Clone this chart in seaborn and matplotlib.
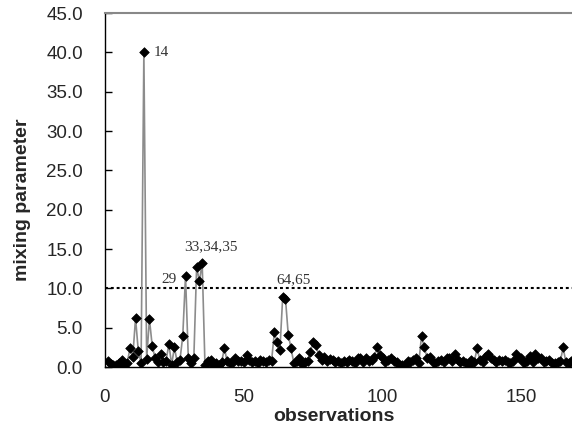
import matplotlib
matplotlib.use("Agg")
import matplotlib.pyplot as plt
import seaborn as sns
import pandas as pd

values = [
    0.7, 0.4, 0.3, 0.3, 0.5, 0.9, 0.2, 0.5, 2.4, 1.3,
    6.2, 2.0, 0.5, 40.0, 1.0, 6.1, 2.7, 1.2, 0.6, 1.7,
    0.6, 0.8, 2.9, 0.3, 2.5, 0.6, 0.9, 3.9, 11.6, 1.2,
    0.5, 1.2, 12.7, 10.9, 13.2, 0.3, 0.8, 0.9, 0.3, 0.5,
    0.3, 0.6, 2.4, 0.7, 0.5, 0.6, 1.1, 0.8, 0.7, 0.6,
    1.5, 0.9, 0.6, 0.7, 0.5, 0.9, 0.7, 0.6, 0.9, 0.8,
    4.4, 3.2, 2.2, 8.9, 8.7, 4.1, 2.4, 0.5, 0.7, 1.1,
    0.4, 0.6, 0.7, 1.9, 3.2, 2.8, 1.5, 0.9, 1.3, 0.7,
    1.0, 0.9, 0.6, 0.7, 0.5, 0.8, 0.6, 0.9, 0.7, 0.5,
    1.1, 1.1, 0.6, 1.1, 0.7, 0.9, 1.3, 2.5, 1.5, 1.1,
    0.6, 0.9, 1.1, 0.8, 0.6, 0.3, 0.3, 0.2, 0.7, 0.6,
    0.9, 1.1, 0.5, 3.9, 2.5, 1.2, 1.3, 0.6, 0.5, 0.7,
    0.9, 0.6, 1.2, 1.1, 0.8, 1.7, 0.9, 0.6, 0.7, 0.5,
    0.3, 0.9, 0.6, 2.4, 0.9, 0.6, 1.3, 1.7, 1.1, 0.9,
    0.6, 0.9, 0.7, 0.9, 0.6, 0.5, 0.8, 1.7, 1.2, 1.1,
    0.5, 0.7, 1.4, 0.6, 1.7, 1.1, 1.1, 0.6, 0.7, 0.9,
    0.5, 0.5, 0.6, 0.7, 2.5, 0.6, 0.5, 0.7,
]
observations = list(range(1, len(values) + 1))
threshold = 10.0
y_ticks = [0, 5, 10, 15, 20, 25, 30, 35, 40, 45]
x_ticks = [0, 50, 100, 150]
annotations = [("14", 14, 40.0), ("29", 29, 11.6), ("33,34,35", 33, 12.7), ("64,65", 64, 8.9)]

df = pd.DataFrame({"observations": observations, "mixing parameter": values})

sns.set_style("white")
plt.rcParams["font.family"] = ["Liberation Sans", "DejaVu Sans"]

fig = plt.figure(figsize=(5.72, 4.29), dpi=100)
ax = fig.add_axes([105 / 572, 62 / 429, 472 / 572, 354 / 429])

sns.lineplot(data=df, x="observations", y="mixing parameter", color="#8c8c8c",
             linewidth=1.2, ax=ax, zorder=2)
sns.scatterplot(data=df, x="observations", y="mixing parameter", marker="D",
                color="black", s=24, edgecolor="black", linewidth=0.5, ax=ax, zorder=3)

ax.axhline(threshold, color="black", linewidth=1.5, linestyle=(0, (1.4, 1.4)), zorder=1)

ax.set_xlim(0, 170)
ax.set_ylim(0, 45)
ax.set_yticks(y_ticks)
ax.set_yticklabels([f"{v:.1f}" for v in y_ticks])
ax.set_xticks(x_ticks)
ax.tick_params(axis="y", direction="in", length=5, width=1, color="black",
               labelsize=13.5, pad=16, left=True)
ax.tick_params(axis="x", length=0, labelsize=13.5, pad=16)

ax.set_xlabel("observations", fontsize=14, fontweight="bold")
ax.set_ylabel("mixing parameter", fontsize=14, fontweight="bold")
ax.xaxis.set_label_coords(0.484, -0.117)
ax.yaxis.set_label_coords(-0.174, 0.472)
ax.yaxis.label.set_va("center")
ax.xaxis.label.set_va("top")

for side in ["left", "bottom"]:
    ax.spines[side].set_color("black")
    ax.spines[side].set_linewidth(1.0)
ax.spines["top"].set_color("#888888")
ax.spines["top"].set_linewidth(1.5)
ax.spines["right"].set_visible(False)

serif = ["Liberation Serif", "DejaVu Serif"]
ann_kw = dict(family=serif, fontsize=11, color="#333333", textcoords="offset points")
ax.annotate(annotations[0][0], (annotations[0][1], annotations[0][2]), xytext=(7, 0),
            ha="left", va="center", **ann_kw)
ax.annotate(annotations[1][0], (annotations[1][1], annotations[1][2]), xytext=(-6.5, -3),
            ha="right", va="center", **ann_kw)
ax.annotate(annotations[2][0], (annotations[2][1], annotations[2][2]), xytext=(-9, 14.5),
            ha="left", va="center", **ann_kw)
ax.annotate(annotations[3][0], (annotations[3][1], annotations[3][2]), xytext=(-4.8, 12.2),
            ha="left", va="center", **ann_kw)

fig.savefig("out.png", dpi=100)
